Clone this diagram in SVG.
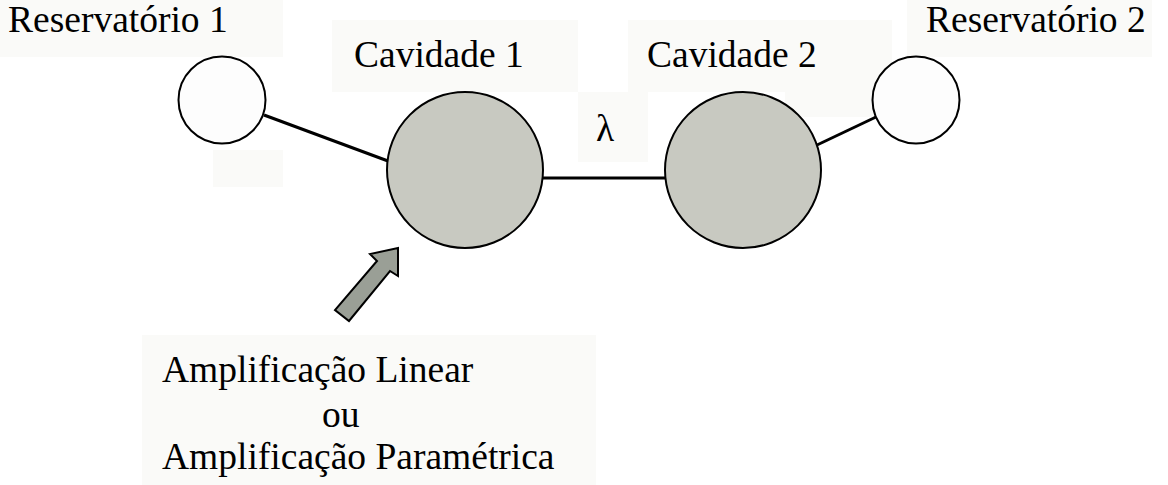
<svg xmlns="http://www.w3.org/2000/svg" width="1168" height="485" viewBox="0 0 1168 485">
  <style>
    .label { font-family: "Liberation Serif", "Times New Roman", serif; font-size: 37.5px; fill: #000; }
    .pad { fill: #fafaf8; }
    .reservoir { fill: #fdfdfd; stroke: #000; stroke-width: 2; }
    .cavity { fill: #c8c9c1; stroke: #000; stroke-width: 2; }
    .link { stroke: #000; stroke-width: 3; fill: none; }
  </style>

  <rect width="1168" height="485" fill="#ffffff"/>

  <!-- light backing panels behind the labels -->
  <g id="panels">
    <rect class="pad" x="0" y="0" width="283" height="57"/>
    <rect class="pad" x="213" y="150" width="70" height="37"/>
    <rect class="pad" x="332" y="20" width="246" height="72"/>
    <rect class="pad" x="578" y="92" width="70" height="70"/>
    <rect class="pad" x="628" y="20" width="264" height="72"/>
    <rect class="pad" x="785" y="92" width="107" height="25"/>
    <rect class="pad" x="907" y="0" width="245" height="57"/>
    <rect class="pad" x="142" y="335" width="454" height="150"/>
  </g>

  <!-- couplings -->
  <g id="connectors">
    <line class="link" x1="264" y1="115" x2="388" y2="161"/>
    <line class="link" x1="543" y1="178" x2="665" y2="178"/>
    <line class="link" x1="817" y1="145" x2="876" y2="117"/>
  </g>

  <g id="reservoir1">
    <circle class="reservoir" cx="222" cy="100" r="43.5"/>
    <text class="label" x="8" y="32">Reservatório 1</text>
  </g>

  <g id="cavity1">
    <circle class="cavity" cx="465" cy="170" r="78"/>
    <text class="label" x="354" y="67">Cavidade 1</text>
  </g>

  <g id="coupling-label">
    <text class="label" x="596" y="141">λ</text>
  </g>

  <g id="cavity2">
    <circle class="cavity" cx="743" cy="170" r="78"/>
    <text class="label" x="647" y="67">Cavidade 2</text>
  </g>

  <g id="reservoir2">
    <circle class="reservoir" cx="916" cy="100" r="43.5"/>
    <text class="label" x="926" y="32">Reservatório 2</text>
  </g>

  <!-- pump input into cavity 1 -->
  <g id="pump">
    <polygon points="398,248 398,276 390,271 349,321 335,310 377,261 370,254" fill="#9a9f96" stroke="#000" stroke-width="2" stroke-linejoin="miter"/>
    <text class="label" x="162" y="382">Amplificação Linear</text>
    <text class="label" x="322" y="427">ou</text>
    <text class="label" x="162" y="469">Amplificação Paramétrica</text>
  </g>
</svg>
